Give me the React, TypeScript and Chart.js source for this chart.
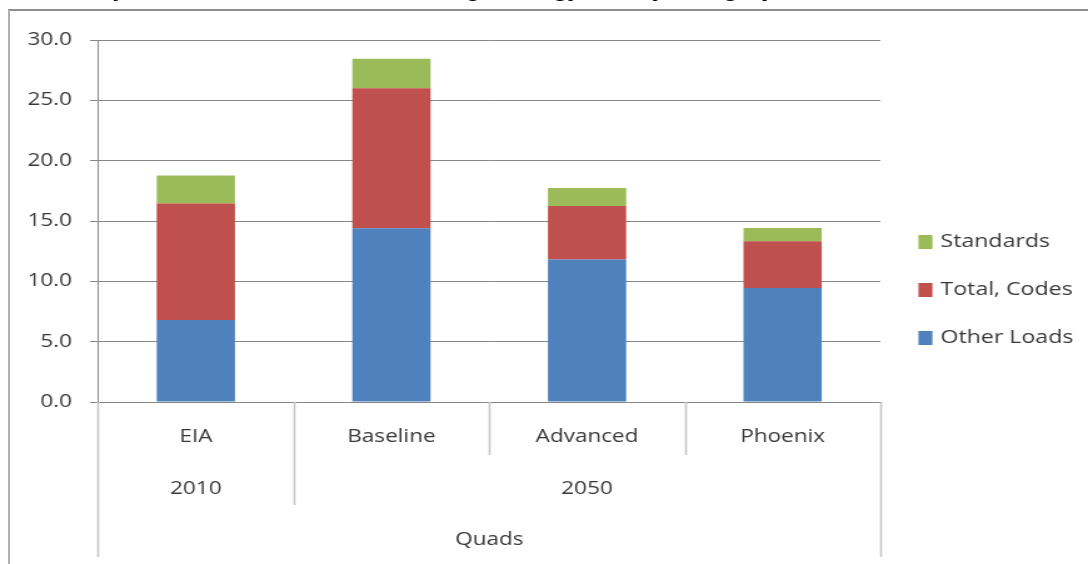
import { useEffect, useRef } from "react";
import { Chart, registerables } from "chart.js";

Chart.register(...registerables);

// Scenario categories on the x axis, grouped by year below them
const categories = ["EIA", "Baseline", "Advanced", "Phoenix"];
const yearLabels = ["2010", "2050"];
const yearSpans = [1, 3]; // number of categories covered by each year

// Energy use in quads, stacked from the bottom up
const otherLoads = [6.8, 14.4, 11.8, 9.45];
const totalCodes = [9.66, 11.6, 4.45, 3.88];
const standards = [2.32, 2.45, 1.48, 1.08];

const axisTitle = "Quads";
const yMin = 0;
const yMax = 30;
const yStep = 5;

const captionText =
  "Table 5. Projected U.S. Commercial Buildings Energy Use by Category in 2010 and 2050";

const FONT = "'Open Sans', 'DejaVu Sans', sans-serif";
const TEXT = "#383838";
const GRID = "#878787";
const SEP = "#c6c6c6";

// canvas is drawn narrow and stretched horizontally to the page width
const CANVAS_W = 870;
const CANVAS_H = 564;
const STRETCH = 1088 / CANVAS_W;

const groupsPlugin = {
  id: "yearGroups",
  afterDraw(chart: any) {
    const { ctx, chartArea, scales } = chart;
    const x = scales.x;
    const n = categories.length;
    const half = (x.getPixelForValue(1) - x.getPixelForValue(0)) / 2;
    const edge = (i: number) => x.getPixelForValue(i) - half;
    const top = chartArea.bottom;

    // indices where a year group starts
    const groupStarts: number[] = [];
    let acc = 0;
    yearSpans.forEach((s) => {
      groupStarts.push(acc);
      acc += s;
    });

    ctx.save();
    ctx.strokeStyle = SEP;
    ctx.lineWidth = 1.6;
    for (let i = 0; i <= n; i++) {
      let bottom = top + 53;
      if (i === 0 || i === n) bottom = top + 155;
      else if (groupStarts.includes(i)) bottom = top + 103;
      const px = Math.round(edge(i)) + 0.5;
      ctx.beginPath();
      ctx.moveTo(px, top);
      ctx.lineTo(px, bottom);
      ctx.stroke();
    }

    ctx.fillStyle = TEXT;
    ctx.font = `18px ${FONT}`;
    ctx.textAlign = "center";
    ctx.textBaseline = "middle";
    yearLabels.forEach((label, g) => {
      const from = groupStarts[g];
      const to = from + yearSpans[g];
      ctx.fillText(label, (edge(from) + edge(to)) / 2, top + 87);
    });
    ctx.restore();
  },
};

const legendPlugin = {
  id: "sideLegend",
  afterDraw(chart: any) {
    const { ctx, chartArea } = chart;
    const items = [...chart.data.datasets].reverse();
    const x0 = chartArea.right + 30.4;
    ctx.save();
    ctx.font = `18.5px ${FONT}`;
    ctx.textBaseline = "middle";
    ctx.textAlign = "left";
    items.forEach((d: any, i: number) => {
      const cy = 242 + i * 48;
      ctx.fillStyle = d.backgroundColor;
      ctx.fillRect(x0, cy - 7, 11.2, 14);
      ctx.fillStyle = TEXT;
      ctx.fillText(d.label, x0 + 17.6, cy);
    });
    ctx.restore();
  },
};

export default function App() {
  const canvasRef = useRef<HTMLCanvasElement | null>(null);

  useEffect(() => {
    if (!canvasRef.current) return;
    const chart = new Chart(canvasRef.current, {
      type: "bar",
      data: {
        labels: categories,
        datasets: [
          { label: "Other Loads", data: otherLoads, backgroundColor: "#4F81BD" },
          { label: "Total, Codes", data: totalCodes, backgroundColor: "#C0504D" },
          { label: "Standards", data: standards, backgroundColor: "#9BBB59" },
        ],
      },
      options: {
        responsive: false,
        animation: false,
        devicePixelRatio: 1,
        layout: { padding: { top: 40, right: 166, bottom: 0, left: 0 } },
        datasets: {
          bar: { barPercentage: 0.4, categoryPercentage: 1, borderWidth: 0 },
        },
        plugins: {
          legend: { display: false },
          tooltip: { enabled: false },
          title: { display: false },
        },
        scales: {
          x: {
            stacked: true,
            grid: { display: false, drawTicks: false },
            border: { display: false },
            ticks: {
              color: TEXT,
              font: { family: FONT, size: 18 },
              padding: 24,
              maxRotation: 0,
              autoSkip: false,
            },
            title: {
              display: true,
              text: axisTitle,
              color: TEXT,
              font: { family: FONT, size: 18 },
              padding: { top: 0, bottom: 13 },
            },
            afterFit: (scale: any) => {
              scale.height = 162;
            },
          },
          y: {
            stacked: true,
            min: yMin,
            max: yMax,
            grid: { color: GRID, lineWidth: 1, tickLength: 6.4 },
            border: { display: true, color: GRID, width: 1 },
            ticks: {
              stepSize: yStep,
              color: TEXT,
              font: { family: FONT, size: 18 },
              padding: 14.4,
              callback: (v: any) => Number(v).toFixed(1),
            },
            afterFit: (scale: any) => {
              scale.width = 78.4;
            },
          },
        },
      },
      plugins: [groupsPlugin, legendPlugin],
    });
    return () => chart.destroy();
  }, []);

  return (
    <div
      style={{
        position: "absolute",
        left: 0,
        top: 0,
        width: 1088,
        height: 564,
        overflow: "hidden",
        background: "#ffffff",
      }}
    >
      <div
        style={{
          position: "absolute",
          left: 0,
          top: 0,
          width: CANVAS_W,
          height: CANVAS_H,
          transform: `scaleX(${STRETCH})`,
          transformOrigin: "0 0",
        }}
      >
        <div
          style={{
            position: "absolute",
            left: 0,
            top: 0,
            width: CANVAS_W,
            height: 8,
            overflow: "hidden",
          }}
        >
          <div
            style={{
              position: "absolute",
              left: -14,
              top: -19,
              whiteSpace: "nowrap",
              font: "italic bold 19px/19px 'Liberation Sans', Arial, sans-serif",
              color: "#000",
            }}
          >
            {captionText}
          </div>
        </div>
        <canvas
          ref={canvasRef}
          width={CANVAS_W}
          height={CANVAS_H}
          style={{ position: "absolute", left: 0, top: 0 }}
        />
      </div>
      <div
        style={{
          position: "absolute",
          left: 8,
          top: 9,
          width: 1200,
          height: 700,
          borderTop: "2px solid #8f8f8f",
          borderLeft: "2px solid #b0b0b0",
          pointerEvents: "none",
        }}
      />
    </div>
  );
}
